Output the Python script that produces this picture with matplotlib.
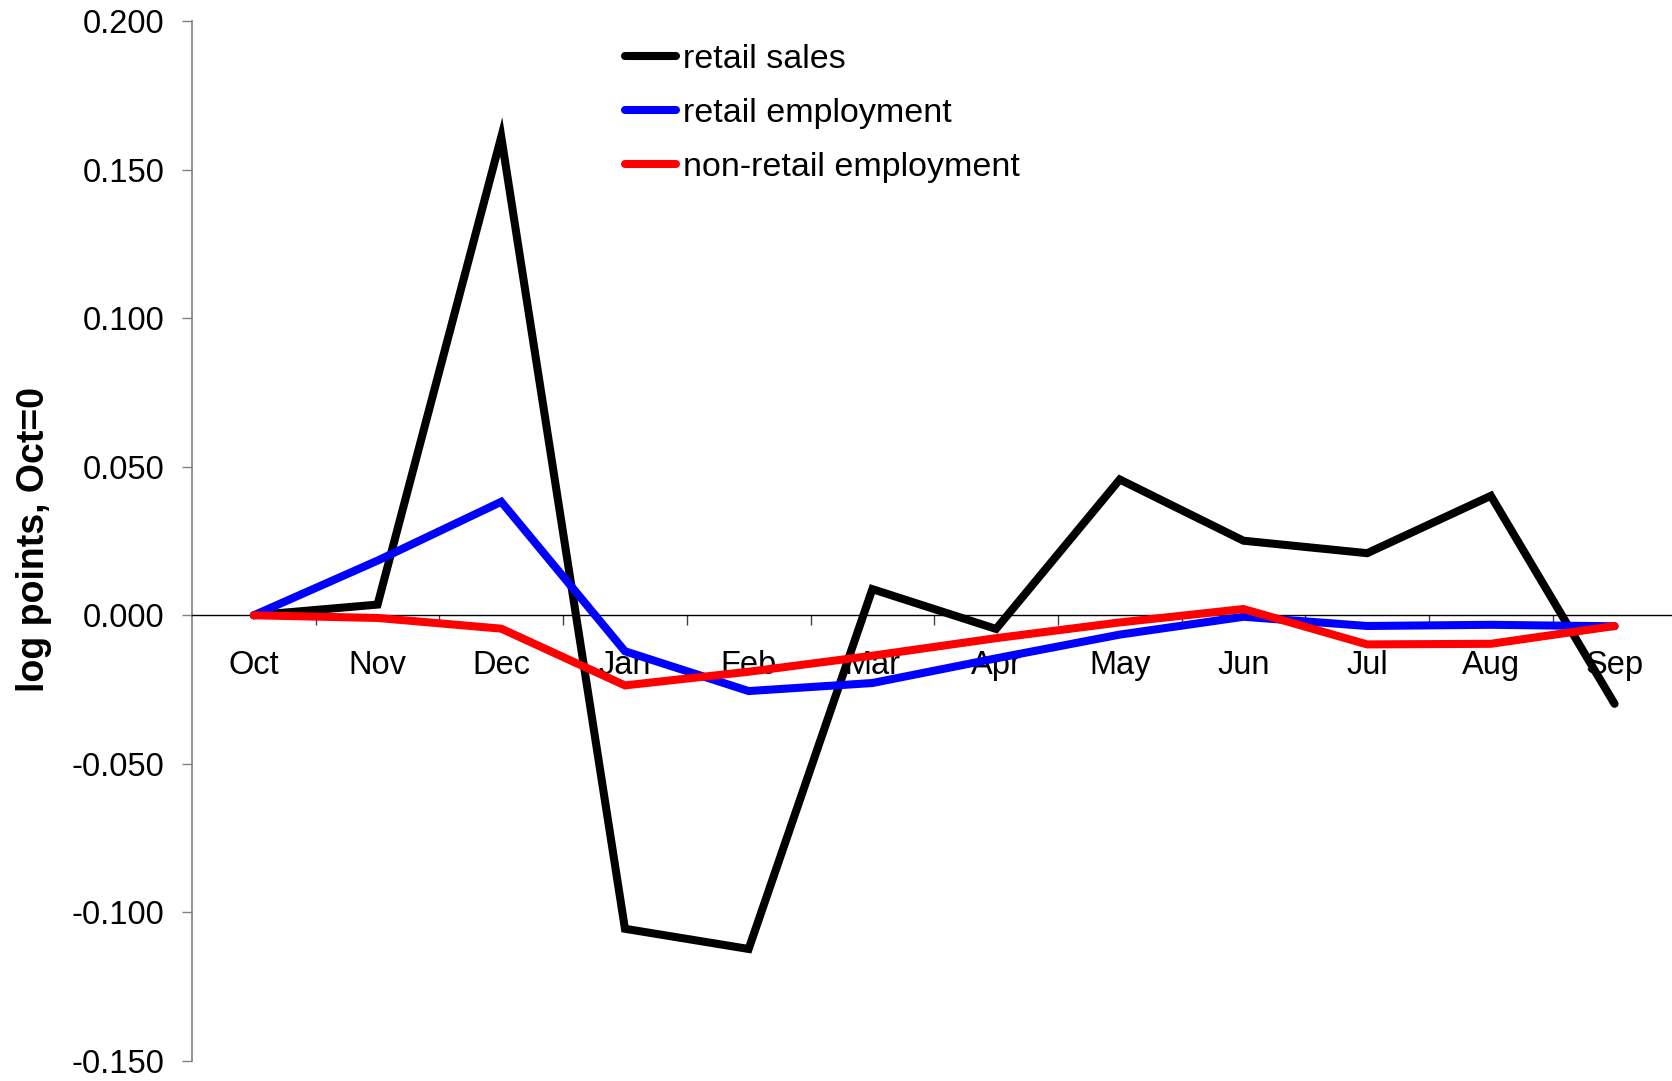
import numpy as np
import matplotlib
matplotlib.use("Agg")
import matplotlib.pyplot as plt
from matplotlib.ticker import FixedLocator, FuncFormatter

plt.rcParams['font.family'] = ['Liberation Sans', 'DejaVu Sans']

# --- data (log points, Oct=0) ---
months = ['Oct', 'Nov', 'Dec', 'Jan', 'Feb', 'Mar', 'Apr', 'May', 'Jun', 'Jul', 'Aug', 'Sep']
retail_sales = [0.000, 0.0036, 0.161, -0.1055, -0.1123, 0.0088, -0.0046, 0.0457, 0.0251, 0.0209, 0.0402, -0.0298]
retail_emp = [0.000, 0.0184, 0.0382, -0.0121, -0.0255, -0.0228, -0.0145, -0.0065, -0.0005, -0.0036, -0.0032, -0.0037]
nonretail_emp = [0.000, -0.0009, -0.0045, -0.0236, -0.0190, -0.0136, -0.0077, -0.0024, 0.0021, -0.0098, -0.0096, -0.0036]

series = [
    ('retail sales', retail_sales, '#000000'),
    ('retail employment', retail_emp, '#0000ff'),
    ('non-retail employment', nonretail_emp, '#ff0000'),
]

W, H = 1672, 1081
fig = plt.figure(figsize=(W / 100, H / 100), dpi=100)
ax = fig.add_axes([192 / W, 1 - 1061 / H, 1 - 192 / W, (1061 - 21) / H])

x = np.arange(len(months))
for name, vals, col in series:
    ax.plot(x, vals, color=col, lw=5.8, label=name,
            solid_capstyle='round', solid_joinstyle='miter', zorder=3)

ax.set_xlim(-0.5, -0.5 + (W - 192) / 123.7)
ax.set_ylim(-0.15, 0.2)

# --- y axis ---
ax.set_yticks(np.arange(-0.15, 0.2001, 0.05))
ax.yaxis.set_major_formatter(FuncFormatter(lambda v, p: f'{v:.3f}'))
ax.tick_params(axis='y', direction='out', length=7, width=1, color='#808080',
               pad=13, labelsize=23.5)
for s in ['top', 'right']:
    ax.spines[s].set_visible(False)
ax.spines['left'].set_color('#808080')
ax.spines['left'].set_linewidth(1.2)

# --- x axis at zero ---
ax.spines['bottom'].set_position(('data', 0))
ax.spines['bottom'].set_color('black')
ax.spines['bottom'].set_linewidth(1)
ax.set_xticks(x)
ax.set_xticklabels(months)
ax.xaxis.set_minor_locator(FixedLocator(np.arange(0.5, 11, 1)))
ax.tick_params(axis='x', which='major', length=0, pad=25, labelsize=23.5)
ax.tick_params(axis='x', which='minor', direction='out', length=7, width=1, color='#404040')
for lab in ax.get_xticklabels():
    lab.set_zorder(1)

ax.set_ylabel('log points, Oct=0', fontsize=27, fontweight='bold')
ax.yaxis.set_label_coords(-(192 - 52) / 1480, (1061 - 539) / 1040)

leg = ax.legend(loc='upper left', bbox_to_anchor=(625 / W, 1 - 44 / H),
                bbox_transform=fig.transFigure, frameon=False, fontsize=24.5,
                handlelength=1.5, handletextpad=0.2, labelspacing=0.68,
                borderaxespad=0, borderpad=0)

fig.savefig('out.png', dpi=100)
